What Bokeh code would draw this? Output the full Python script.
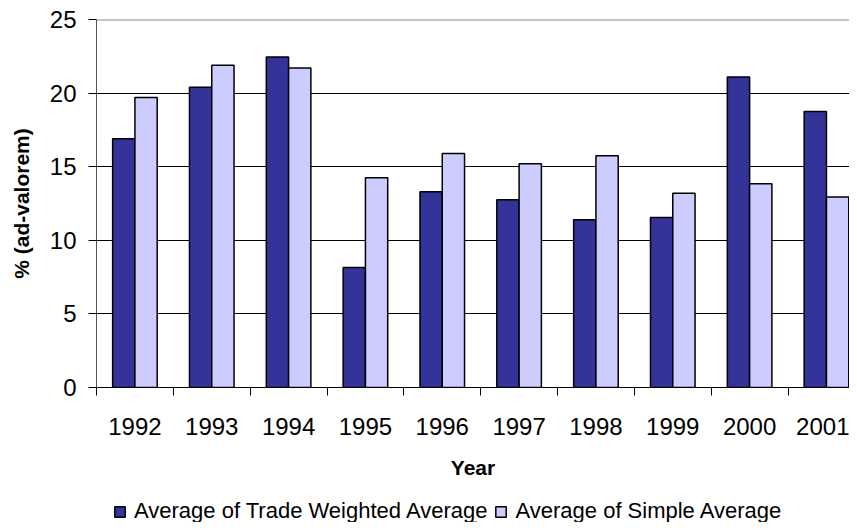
from bokeh.plotting import figure
from bokeh.layouts import column
from bokeh.models import (ColumnDataSource, Range1d, FixedTicker, Span, Legend, LegendItem)
from bokeh.transform import dodge
from bokeh.embed import file_html
from bokeh.resources import INLINE

years = ["1992", "1993", "1994", "1995", "1996", "1997", "1998", "1999", "2000", "2001"]
trade_weighted = [16.9, 20.4, 22.45, 8.15, 13.3, 12.75, 11.4, 11.55, 21.1, 18.75]
simple_avg = [19.7, 21.9, 21.7, 14.25, 15.9, 15.2, 15.75, 13.2, 13.85, 12.95]
y_ticks = [0, 5, 10, 15, 20, 25]
series_names = ["Average of Trade Weighted Average", "Average of Simple Average"]
series_colors = ["#333399", "#CCCCFF"]

n = len(years)
centers = [i + 0.5 for i in range(n)]
bounds = [float(i) for i in range(n + 1)]

src = ColumnDataSource(dict(x=centers, tw=trade_weighted, sa=simple_avg))

FONT = "Liberation Sans"
W = 849

p = figure(width=W, height=490, output_backend="svg", toolbar_location=None,
           x_range=Range1d(0, 9.8), y_range=Range1d(0, 25),
           min_border_left=96, min_border_right=0, min_border_top=19, min_border_bottom=103)
p.outline_line_color = None
p.background_fill_color = "white"
p.border_fill_color = "white"

bw = 0.29
r1 = p.vbar(x=dodge("x", -bw / 2), top="tw", width=bw, source=src,
            fill_color=series_colors[0], line_color="black", line_width=1.5)
r2 = p.vbar(x=dodge("x", bw / 2), top="sa", width=bw, source=src,
            fill_color=series_colors[1], line_color="black", line_width=1.5)

# grid
p.xgrid.visible = False
p.ygrid.ticker = FixedTicker(ticks=[5, 10, 15, 20])
p.ygrid.grid_line_color = "black"
p.ygrid.grid_line_width = 1
p.add_layout(Span(location=25, dimension="width", line_color="#8c8c8c", line_width=2))

# x axis
xa = p.xaxis[0]
xa.ticker = FixedTicker(ticks=centers, minor_ticks=bounds)
xa.major_label_overrides = {c: y for c, y in zip(centers, years)}
xa.major_tick_out = 0
xa.major_tick_in = 0
xa.minor_tick_out = 8
xa.minor_tick_in = 0
xa.minor_tick_line_color = "black"
xa.axis_line_color = "black"
xa.major_label_text_font = FONT
xa.major_label_text_font_size = "24px"
xa.major_label_text_color = "black"
xa.major_label_standoff = 22
xa.axis_label = "Year"
xa.axis_label_text_font = FONT
xa.axis_label_text_font_size = "21px"
xa.axis_label_text_font_style = "bold"
xa.axis_label_text_color = "black"
xa.axis_label_standoff = 18

# y axis
ya = p.yaxis[0]
ya.ticker = FixedTicker(ticks=y_ticks)
ya.minor_tick_line_color = None
ya.major_tick_out = 8
ya.major_tick_in = 0
ya.major_tick_line_color = "black"
ya.axis_line_color = "#555555"
ya.major_label_text_font = FONT
ya.major_label_text_font_size = "24px"
ya.major_label_text_color = "black"
ya.major_label_standoff = 12
ya.axis_label = "% (ad-valorem)"
ya.axis_label_text_font = FONT
ya.axis_label_text_font_size = "21px"
ya.axis_label_text_font_style = "bold"
ya.axis_label_text_color = "black"
ya.axis_label_standoff = 14

# legend strip (separate figure so the legend is not clipped by the plot frame)
lg = figure(width=W, height=32, output_backend="svg", toolbar_location=None,
            x_range=Range1d(0, 1), y_range=Range1d(0, 1),
            min_border_left=0, min_border_right=0, min_border_top=0, min_border_bottom=0)
lg.axis.visible = False
lg.grid.visible = False
lg.outline_line_color = None
# placeholder renderers, placed outside the visible area, that only supply legend swatches
dummy = ColumnDataSource(dict(x=[0.5], top=[-3.0], bottom=[-4.0]))
lr = [lg.vbar(x="x", top="top", bottom="bottom", width=0.01, source=dummy,
              fill_color=c, line_color="black", line_width=1.5) for c in series_colors]
legend = Legend(items=[LegendItem(label=nm, renderers=[r]) for nm, r in zip(series_names, lr)],
                orientation="horizontal", location=(17, -2),
                label_text_font=FONT, label_text_font_size="22px", label_text_color="black",
                glyph_width=13, glyph_height=13, label_standoff=8, spacing=7,
                padding=0, margin=0, border_line_color=None, background_fill_alpha=0)
lg.add_layout(legend, "center")

open("out.html", "w").write(file_html(column(p, lg, spacing=0), INLINE))
